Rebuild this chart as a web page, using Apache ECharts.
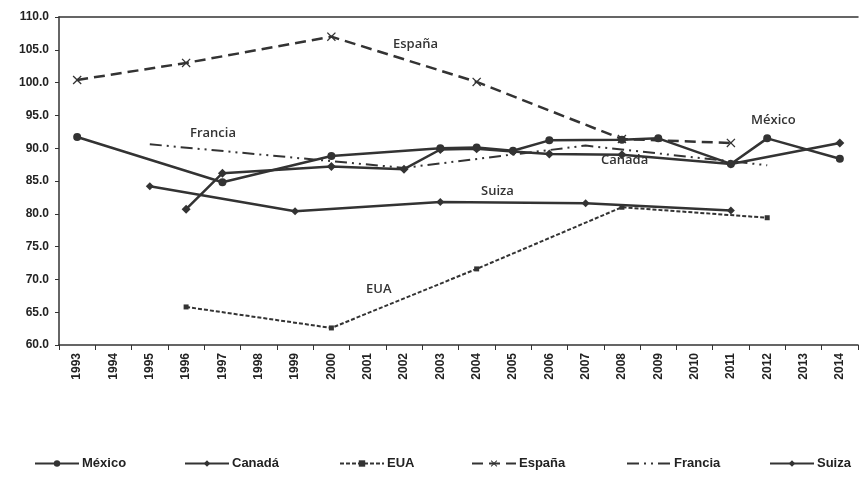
<!DOCTYPE html>
<html>
<head>
<meta charset="utf-8">
<script src="https://cdn.jsdelivr.net/npm/echarts@6/dist/echarts.min.js"></script>
<style>
html,body{margin:0;padding:0;background:#fff;}
#chart{width:859px;height:481px;}
</style>
</head>
<body>
<div id="chart"></div>
<script>
// años
var years = ['1993','1994','1995','1996','1997','1998','1999','2000','2001','2002','2003',
	'2004','2005','2006','2007','2008','2009','2010','2011','2012','2013','2014'];

// series (null = sin dato)
var mexico = [91.7,null,null,null,84.8,null,null,88.8,null,null,90.0,
	90.1,89.6,91.2,null,91.3,91.5,null,87.6,91.5,null,88.4];
var canada = [null,null,null,80.7,86.2,null,null,87.2,null,86.8,89.8,
	89.9,89.5,89.1,null,89.0,null,null,87.6,null,null,90.8];
var eua = [null,null,null,65.8,null,null,null,62.6,null,null,null,
	71.6,null,null,null,81.0,null,null,null,79.4,null,null];
var espana = [100.4,null,null,103.0,null,null,null,107.0,null,null,null,
	100.1,null,null,null,91.4,null,null,90.8,null,null,null];
var francia = [null,null,90.6,null,null,null,null,null,null,87.0,null,
	null,null,null,90.4,null,null,null,null,87.4,null,null];
var suiza = [null,null,84.2,null,null,null,80.4,null,null,null,81.8,
	null,null,null,81.6,null,null,null,80.5,null,null,null];

var yTicks = [60,65,70,75,80,85,90,95,100,105,110];

var ink = '#333333';
var myChart = echarts.init(document.getElementById('chart'));

function mkSeries(name, data, symbol, size, dash, width) {
	return {
		name : name,
		type : 'line',
		data : data,
		connectNulls : true,
		symbol : symbol,
		symbolSize : size,
		itemStyle : { color : ink },
		lineStyle : { color : ink, width : width, type : dash },
		animation : false
	};
}

var xMark = 'path://M0,1L1,0L5,4L9,0L10,1L6,5L10,9L9,10L5,6L1,10L0,9L4,5Z';

function mkLegend(name, left) {
	return {
		data : [name],
		left : left,
		top : 457,
		padding : 0,
		itemWidth : 44,
		itemHeight : 8,
		itemGap : 4,
		textStyle : { color : '#222', fontSize : 13, fontWeight : 'bold', fontFamily : 'Liberation Sans', padding : [0, 0, 0, -2] }
	};
}

var labelFont = { fill : ink, fontSize : 13, fontWeight : 600, fontFamily : 'Open Sans' };
function txt(x, y, s) {
	return { type : 'text', left : x, top : y, style : Object.assign({ text : s }, labelFont) };
}

var fr = mkSeries('Francia', francia, 'circle', 1, [12, 5, 2, 5, 2, 5], 2);
fr.itemStyle = { color : ink, opacity : 0 };

option = {
	backgroundColor : '#ffffff',
	animation : false,
	grid : { left : 59, right : 1, top : 17, bottom : 136 },
	legend : [
		mkLegend('México', 34),
		mkLegend('Canadá', 184),
		mkLegend('EUA', 339),
		mkLegend('España', 471),
		mkLegend('Francia', 626),
		mkLegend('Suiza', 769)
	],
	xAxis : [{
		type : 'category',
		data : years,
		boundaryGap : true,
		axisLine : { lineStyle : { color : ink, width : 1.5 } },
		axisTick : { show : true, length : 5, lineStyle : { color : ink } },
		axisLabel : {
			rotate : 90,
			color : '#222',
			fontSize : 12,
			fontWeight : 'bold',
			fontFamily : 'Liberation Sans',
			margin : 8
		},
		splitLine : { show : false }
	}, {
		type : 'category',
		data : years,
		position : 'top',
		axisLine : { lineStyle : { color : ink, width : 1.5 } },
		axisTick : { show : false },
		axisLabel : { show : false }
	}],
	yAxis : {
		type : 'value',
		min : yTicks[0],
		max : yTicks[yTicks.length - 1],
		interval : 5,
		axisLine : { show : true, lineStyle : { color : ink, width : 1.5 } },
		axisTick : { show : true, length : 4, lineStyle : { color : ink } },
		splitLine : { show : false },
		axisLabel : {
			color : '#222',
			fontSize : 12,
			fontWeight : 'bold',
			fontFamily : 'Liberation Sans',
			margin : 10,
			formatter : function(v) { return v.toFixed(1); }
		}
	},
	graphic : [
		txt(393, 38, 'España'),
		txt(190, 127, 'Francia'),
		txt(751, 114, 'México'),
		txt(601, 154, 'Canada'),
		txt(481, 185, 'Suiza'),
		txt(366, 283, 'EUA')
	],
	series : [
		mkSeries('México', mexico, 'circle', 8, 'solid', 2.5),
		mkSeries('Canadá', canada, 'diamond', 9, 'solid', 2.5),
		mkSeries('EUA', eua, 'rect', 5, [4, 2], 2),
		mkSeries('España', espana, xMark, 9, [11, 6], 2.5),
		fr,
		mkSeries('Suiza', suiza, 'diamond', 8, 'solid', 2.5)
	]
};
myChart.setOption(option);
</script>
</body>
</html>
